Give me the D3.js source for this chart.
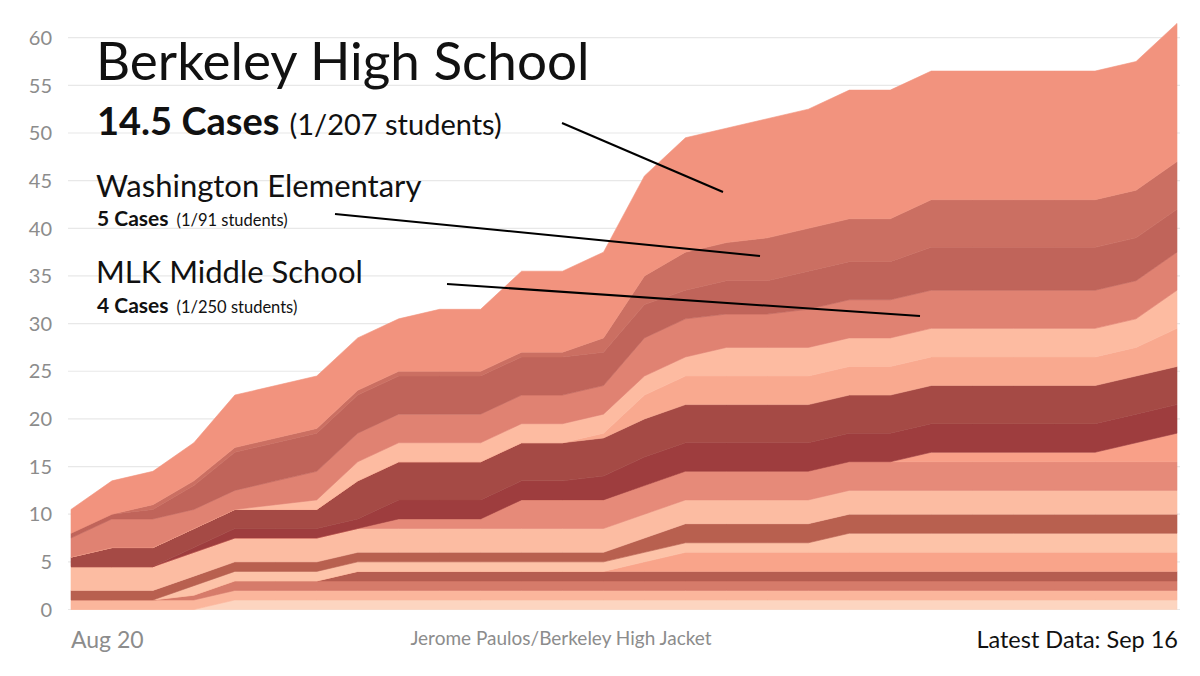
<!DOCTYPE html>
<html lang="en">
<head>
    <meta charset="UTF-8">
    <title>Berkeley school cases</title>
    <script src="https://cdn.jsdelivr.net/npm/d3@7"></script>
    <style>
        body { margin: 0; background: #fff; }
        text { font-family: Lato, "Open Sans", sans-serif; }
    </style>
</head>
<body>
    <div class="chart"></div>
</body>
<script>
    // one value per day, Aug 20 .. Sep 16 (stacked bottom -> top)
    const dates = d3.timeDay.range(new Date(2020, 7, 20), new Date(2020, 8, 17))
    const sA = [0,0,0,0,1,1,1,1,1,1,1,1,1,1,1,1,1,1,1,1,1,1,1,1,1,1,1,1]
    const sB = [1,1,1,1,1,1,1,1,1,1,1,1,1,1,1,1,1,1,1,1,1,1,1,1,1,1,1,1]
    const sC = [0,0,0,0.5,1,1,1,1,1,1,1,1,1,1,1,1,1,1,1,1,1,1,1,1,1,1,1,1]
    const sD = [0,0,0,0,0,0,0,1,1,1,1,1,1,1,1,1,1,1,1,1,1,1,1,1,1,1,1,1]
    const sE = [0,0,0,0,0,0,0,0,0,0,0,0,0,0,1,2,2,2,2,2,2,2,2,2,2,2,2,2]
    const sF = [0,0,0,1,1,1,1,1,1,1,1,1,1,1,1,1,1,1,1,2,2,2,2,2,2,2,2,2]
    const sG = [1,1,1,1,1,1,1,1,1,1,1,1,1,1,1.5,2,2,2,2,2,2,2,2,2,2,2,2,2]
    const sH = [2.5,2.5,2.5,2.5,2.5,2.5,2.5,2.5,2.5,2.5,2.5,2.5,2.5,2.5,2.5,2.5,2.5,2.5,2.5,2.5,2.5,2.5,2.5,2.5,2.5,2.5,2.5,2.5]
    const sI = [0,0,0,0,0,0,0,0,1,1,1,3,3,3,3,3,3,3,3,3,3,3,3,3,3,3,3,3]
    const sJ = [0,0,0,0,0,0,0,0,0,0,0,0,0,0,0,0,0,0,0,0,0,1,1,1,1,1,2,3]
    const sK = [0,0,0,0.5,1,1,1,1,2,2,2,2,2,2.5,3,3,3,3,3,3,3,3,3,3,3,3,3,3]
    const sL = [1,2,2,2,2,2,2,4,4,4,4,4,4,4,4,4,4,4,4,4,4,4,4,4,4,4,4,4]
    const sM = [0,0,0,0,0,0,0,0,0,0,0,0,0,0.5,2.5,3,3,3,3,3,3,3,3,3,3,3,3,4]
    const sN = [0,0,0,0,0,0.5,1,2,2,2,2,2,2,2,2,2,3,3,3,3,3,3,3,3,3,3,3,4]
    const mlk = [2,3,3,2,2,2.5,3,3,3,3,3,3,3,3,4,4,3.5,3.5,4,4,4,4,4,4,4,4,4,4]
    const sP = [0.5,0.5,1,2.5,4,4,4,4,4,4,4,4,4,3.5,3.5,3,3.5,3.5,4,4,4,4.5,4.5,4.5,4.5,4.5,4.5,4.5]
    const washington = [0,0,0.5,0.5,0.5,0.5,0.5,0.5,0.5,0.5,0.5,0.5,0.5,1.5,3,4,4,4.5,4.5,4.5,4.5,5,5,5,5,5,5,5]
    const bhs = [2.5,3.5,3.5,4,5.5,5.5,5.5,5.5,5.5,6.5,6.5,8.5,8.5,9,10.5,12,12,12.5,12.5,13.5,13.5,13.5,13.5,13.5,13.5,13.5,13.5,14.5]

    const series = [sA, sB, sC, sD, sE, sF, sG, sH, sI, sJ, sK, sL, sM, sN, mlk, sP, washington, bhs]
    const colors = ['#fdd5c0', '#fbb69c', '#d67b6a', '#b55d50', '#f9a48a', '#fdc3a8',
        '#b8604f', '#fcbca2', '#e68a79', '#f9a088', '#9e3d3e', '#a54a45',
        '#f9a98f', '#fdbba1', '#e08272', '#c0645a', '#cb6f62', '#f2937e']
    const yTicks = [0, 5, 10, 15, 20, 25, 30, 35, 40, 45, 50, 55, 60]

    const width = 1200
    const height = 676
    const svg = d3.select('.chart')
        .append('svg')
        .attr('width', width)
        .attr('height', height)

    const keys = series.map((s, i) => 'k' + i)
    const table = dates.map((d, i) => {
        const row = { date: d }
        series.forEach((s, j) => { row[keys[j]] = s[i] })
        return row
    })

    const x = d3.scaleTime().domain(d3.extent(dates)).range([71, 1177])
    const y = d3.scaleLinear().domain([0, 60]).range([609.5, 37.7])

    // grid
    svg.append('g')
        .selectAll('line')
        .data(yTicks)
        .enter().append('line')
        .attr('x1', 68).attr('x2', 1180)
        .attr('y1', d => y(d)).attr('y2', d => y(d))
        .attr('stroke', '#e8e8e8')
        .attr('stroke-width', 1.2)

    svg.append('g')
        .selectAll('text')
        .data(yTicks)
        .enter().append('text')
        .attr('x', 52)
        .attr('y', d => y(d))
        .attr('dy', '0.36em')
        .attr('text-anchor', 'end')
        .attr('fill', '#8c8c8c')
        .attr('font-size', '20px')
        .text(d => d)

    const stacked = d3.stack().keys(keys)(table)
    const area = d3.area()
        .x(d => x(d.data.date))
        .y0(d => y(d[0]))
        .y1(d => y(d[1]))

    svg.append('g')
        .selectAll('path')
        .data(stacked)
        .enter().append('path')
        .attr('d', area)
        .attr('fill', (d, i) => colors[i])
        .attr('stroke', (d, i) => colors[i])
        .attr('stroke-width', 0.6)

    // annotations
    const notes = svg.append('g').attr('fill', '#111')
    notes.append('text').attr('x', 96).attr('y', 80)
        .attr('font-size', '53px').text('Berkeley High School')
    const t1 = notes.append('text').attr('x', 97).attr('y', 135)
    t1.append('tspan').attr('font-size', '38px').attr('font-weight', 'bold').text('14.5 Cases')
    t1.append('tspan').attr('font-size', '29px').attr('dx', 10).text('(1/207 students)')

    notes.append('text').attr('x', 96).attr('y', 197)
        .attr('font-size', '31px').text('Washington Elementary')
    const t2 = notes.append('text').attr('x', 97).attr('y', 226)
    t2.append('tspan').attr('font-size', '21px').attr('font-weight', 'bold').text('5 Cases')
    t2.append('tspan').attr('font-size', '16.5px').attr('dx', 8).text('(1/91 students)')

    notes.append('text').attr('x', 96).attr('y', 283)
        .attr('font-size', '31px').text('MLK Middle School')
    const t3 = notes.append('text').attr('x', 97).attr('y', 313)
    t3.append('tspan').attr('font-size', '21px').attr('font-weight', 'bold').text('4 Cases')
    t3.append('tspan').attr('font-size', '16.5px').attr('dx', 8).text('(1/250 students)')

    const leaders = [
        [562, 123, 723, 192],
        [335, 214, 760, 256],
        [447, 284, 920, 316]
    ]
    svg.append('g')
        .selectAll('line')
        .data(leaders)
        .enter().append('line')
        .attr('x1', d => d[0]).attr('y1', d => d[1])
        .attr('x2', d => d[2]).attr('y2', d => d[3])
        .attr('stroke', '#000')
        .attr('stroke-width', 2)

    // footer
    svg.append('text').attr('x', x(dates[0])).attr('y', 648)
        .attr('font-size', '23px').attr('fill', '#8c8c8c').text('Aug 20')
    svg.append('text').attr('x', 561).attr('y', 645)
        .attr('text-anchor', 'middle')
        .attr('font-size', '19px').attr('fill', '#8c8c8c').text('Jerome Paulos/Berkeley High Jacket')
    svg.append('text').attr('x', x(dates[dates.length - 1]) + 1).attr('y', 648)
        .attr('text-anchor', 'end')
        .attr('font-size', '23.5px').attr('fill', '#111').text('Latest Data: Sep 16')
</script>
</html>
